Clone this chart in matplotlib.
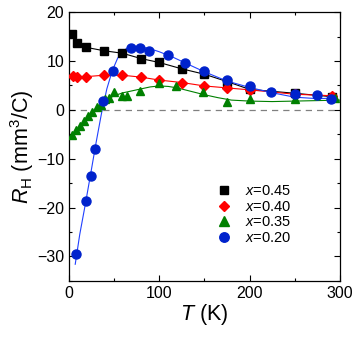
import matplotlib.pyplot as plt
from matplotlib.ticker import MultipleLocator

plt.rcParams['font.family'] = ['Liberation Sans', 'DejaVu Sans']
plt.rcParams['mathtext.fontset'] = 'custom'
plt.rcParams['mathtext.it'] = 'Liberation Sans:italic'
plt.rcParams['mathtext.rm'] = 'Liberation Sans'

# x = 0.45 (black squares)
T45 = [3, 9, 19, 39, 59, 80, 100, 125, 150, 175, 200, 250, 291]
R45 = [15.5, 13.6, 12.8, 12.1, 11.6, 10.5, 9.7, 8.4, 7.3, 5.8, 4.2, 3.4, 2.7]

# x = 0.40 (red diamonds)
T40 = [4, 9, 19, 39, 59, 80, 100, 125, 150, 175, 200, 250, 291]
R40 = [6.9, 6.8, 6.8, 7.1, 7.1, 6.7, 6.1, 5.6, 4.9, 4.5, 4.1, 3.2, 2.9]

# x = 0.35 (green triangles)
T35 = [3, 8, 12, 17, 21, 26, 31, 35, 40, 44, 50, 59, 64, 79, 100, 119, 149, 175, 200, 250, 295]
R35 = [-5.2, -4.2, -3.2, -2.2, -1.3, -0.4, 0.5, 1.1, 2.2, 2.4, 3.6, 2.8, 2.8, 3.9, 5.6, 4.8, 3.7, 1.7, 2.2, 2.2, 2.4]
# smooth fit curve through x = 0.35
T35c = [3, 10, 20, 30, 40, 50, 60, 70, 80, 90, 100, 110, 120, 135, 150, 165, 180, 200, 225, 250, 275, 300]
R35c = [-5.4, -3.9, -1.7, 0.3, 1.8, 2.9, 3.5, 3.9, 4.3, 4.7, 4.9, 4.8, 4.5, 3.8, 3.1, 2.5, 2.0, 1.8, 1.7, 1.8, 1.9, 2.0]

# x = 0.20 (blue circles)
T20 = [8, 19, 24, 29, 38, 49, 69, 79, 89, 110, 129, 150, 175, 200, 224, 250, 275, 290]
R20 = [-29.5, -18.7, -13.5, -8.0, 1.8, 8.0, 12.7, 12.7, 12.0, 11.2, 9.6, 8.0, 6.1, 4.9, 3.7, 3.2, 3.0, 2.3]
# smooth fit curve through x = 0.20
T20c = [7, 12, 18, 24, 30, 36, 42, 48, 54, 60, 66, 72, 80, 90, 100, 115, 130, 150, 175, 200, 225, 250, 275, 292]
R20c = [-31.6, -25.5, -19.5, -13.2, -6.8, -0.8, 4.3, 8.0, 10.6, 12.1, 12.8, 13.0, 12.9, 12.5, 11.9, 10.8, 9.5, 7.8, 5.9, 4.6, 3.5, 2.6, 2.3, 2.4]

fig = plt.figure(figsize=(3.57, 3.38), dpi=100)
ax = fig.add_axes([0.193, 0.169, 0.759, 0.795])

ax.axhline(0, color='gray', ls=(0, (5, 4)), lw=0.9, zorder=1)

ax.plot(T45, R45, color='black', lw=0.8, zorder=2)
ax.plot(T40, R40, color='red', lw=0.8, zorder=2)
ax.plot(T35c, R35c, color='#008000', lw=0.8, zorder=2)
ax.plot(T20c, R20c, color='#2040ff', lw=0.8, zorder=2)

ax.plot(T45, R45, 's', color='black', ms=5.3, ls='none', label=r'$x$=0.45', zorder=3)
ax.plot(T40, R40, 'D', color='red', ms=5.0, ls='none', label=r'$x$=0.40', zorder=3)
ax.plot(T35, R35, '^', color='#008000', ms=6.3, ls='none', label=r'$x$=0.35', zorder=3)
ax.plot(T20, R20, 'o', color='#0022cc', ms=6.5, ls='none', label=r'$x$=0.20', zorder=3)

ax.set_xlim(0, 300)
ax.set_ylim(-35, 20)
ax.xaxis.set_major_locator(MultipleLocator(100))
ax.xaxis.set_minor_locator(MultipleLocator(50))
ax.yaxis.set_major_locator(MultipleLocator(10))
ax.yaxis.set_minor_locator(MultipleLocator(5))
ax.tick_params(which='both', direction='in', top=True, right=True, labelsize=11.5, width=0.8)
ax.tick_params(which='major', length=4)
ax.tick_params(which='minor', length=2.5)
for s in ax.spines.values():
    s.set_linewidth(0.9)

ax.set_xlabel(r'$T$ (K)', fontsize=15.5, labelpad=1)
ax.set_ylabel(r'$R_{\mathrm{H}}$ (mm$^3$/C)', fontsize=15.5, labelpad=1)

ax.legend(loc='center left', bbox_to_anchor=(0.52, 0.247), frameon=False, fontsize=10.5,
          handlelength=1.0, handletextpad=0.9, labelspacing=0.12, borderpad=0,
          markerscale=1.05)

fig.savefig('out.png', dpi=100)
